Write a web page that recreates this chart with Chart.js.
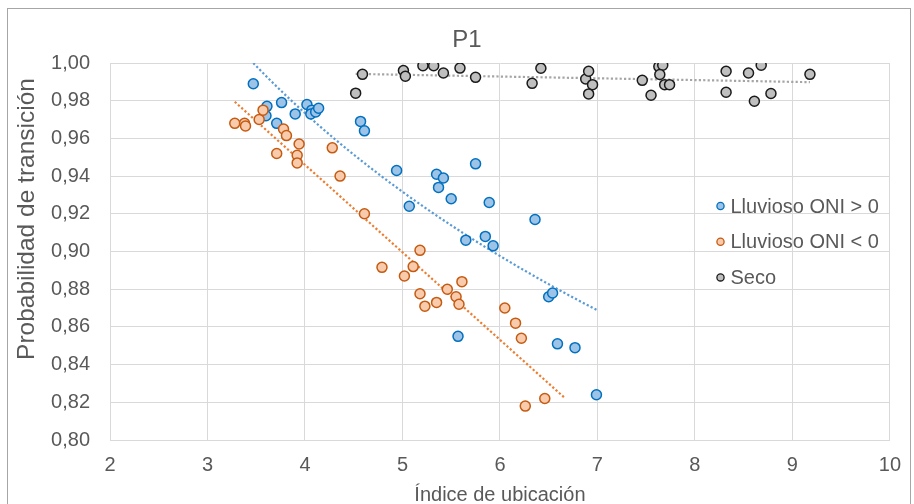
<!DOCTYPE html>
<html>
<head>
<meta charset="utf-8">
<script src="https://cdn.jsdelivr.net/npm/chart.js@4.4.0/dist/chart.umd.min.js"></script>
<style>
  body { margin: 0; background: #fff; }
  #wrap { width: 914px; height: 504px; }
</style>
</head>
<body>
<div id="wrap"><canvas id="p1Chart" width="914" height="504"></canvas></div>
<script>
// datos
const seriesNames = ['Lluvioso ONI > 0', 'Lluvioso ONI < 0', 'Seco'];

const lluviosoPosX = [3.47, 3.61, 3.60, 3.76, 3.71, 3.90, 4.02, 4.07, 4.06, 4.11, 4.14, 4.57, 4.61, 4.94, 5.07, 5.35,
  5.42, 5.37, 5.50, 5.75, 5.89, 6.36, 5.65, 5.85, 5.93, 6.50, 6.54, 5.57, 6.59, 6.77, 6.99];
const lluviosoPosY = [0.989, 0.977, 0.972, 0.979, 0.968, 0.973, 0.978, 0.975, 0.973, 0.974, 0.976, 0.969, 0.964, 0.943, 0.924, 0.941,
  0.939, 0.934, 0.928, 0.9465, 0.926, 0.917, 0.906, 0.908, 0.903, 0.876, 0.878, 0.855, 0.851, 0.849, 0.824];

const lluviosoNegX = [3.28, 3.38, 3.39, 3.53, 3.57, 3.71, 3.78, 3.81, 3.92, 3.92, 3.94, 4.28, 4.36, 4.61, 4.79, 5.02,
  5.11, 5.18, 5.18, 5.23, 5.35, 5.46, 5.55, 5.58, 5.61, 6.05, 6.16, 6.22, 6.26, 6.46];
const lluviosoNegY = [0.968, 0.968, 0.9666, 0.970, 0.975, 0.952, 0.965, 0.9615, 0.951, 0.947, 0.957, 0.955, 0.940, 0.920, 0.8916, 0.887,
  0.892, 0.9006, 0.8776, 0.871, 0.873, 0.880, 0.876, 0.872, 0.884, 0.870, 0.862, 0.854, 0.818, 0.822];

const secoX = [4.52, 4.59, 5.01, 5.03, 5.21, 5.32, 5.42, 5.59, 5.75, 6.33, 6.42, 6.88, 6.91, 6.95, 6.91, 7.46, 7.55,
  7.63, 7.67, 7.64, 7.69, 7.74, 8.32, 8.32, 8.55, 8.68, 8.61, 8.78, 9.18];
const secoY = [0.984, 0.994, 0.996, 0.993, 0.9986, 0.9986, 0.9947, 0.9973, 0.9924, 0.9892, 0.9972, 0.9915, 0.9956, 0.9885, 0.9836, 0.9908, 0.9829,
  0.9981, 0.9988, 0.9939, 0.9885, 0.9885, 0.9956, 0.9845, 0.9947, 0.9988, 0.9797, 0.9838, 0.994];

const xTicks = [2, 3, 4, 5, 6, 7, 8, 9, 10];
const yTicks = [0.80, 0.82, 0.84, 0.86, 0.88, 0.90, 0.92, 0.94, 0.96, 0.98, 1.00];
// tipo de linea de tendencia y pronostico hacia adelante (como en Excel)
const trendTypes = ['log', 'linear', 'linear'];
const trendForward = [0, 0.2, 0];

const textColor = '#595959';
const fontFam = "'Liberation Sans', Arial, sans-serif";

function toPoints(xs, ys) {
  return xs.map((x, i) => ({ x: x, y: ys[i] }));
}

// regresion por minimos cuadrados (lineal o logaritmica)
function fitTrend(xs, ys, type, forward) {
  const tx = xs.map(x => type === 'log' ? Math.log(x) : x);
  const n = xs.length;
  let sx = 0, sy = 0, sxx = 0, sxy = 0;
  for (let i = 0; i < n; i++) {
    sx += tx[i]; sy += ys[i]; sxx += tx[i] * tx[i]; sxy += tx[i] * ys[i];
  }
  const b = (n * sxy - sx * sy) / (n * sxx - sx * sx);
  const a = (sy - b * sx) / n;
  const x0 = Math.min(...xs), x1 = Math.max(...xs) + forward;
  const pts = [];
  const steps = 40;
  for (let k = 0; k <= steps; k++) {
    const x = x0 + (x1 - x0) * k / steps;
    pts.push({ x: x, y: a + b * (type === 'log' ? Math.log(x) : x) });
  }
  return pts;
}

const seriesX = [lluviosoPosX, lluviosoNegX, secoX];
const seriesY = [lluviosoPosY, lluviosoNegY, secoY];
const fills = ['#9dc3e6', '#f8cbad', '#bfbfbf'];
const borders = ['#0070c0', '#c55a11', '#1a1a1a'];
const trendColors = ['#5b9bd5', '#ed7d31', '#a5a5a5'];
const pointOrder = [2, 1, 0];

const datasets = [];
seriesNames.forEach((name, i) => {
  datasets.push({
    label: name,
    data: toPoints(seriesX[i], seriesY[i]),
    backgroundColor: fills[i],
    borderColor: borders[i],
    borderWidth: 1.5,
    pointRadius: 5,
    order: pointOrder[i]
  });
});
seriesNames.forEach((name, i) => {
  datasets.push({
    type: 'line',
    label: 'trend-' + name,
    data: fitTrend(seriesX[i], seriesY[i], trendTypes[i], trendForward[i]),
    borderColor: trendColors[i],
    borderWidth: 2.2,
    borderDash: [2.2, 2.2],
    pointRadius: 0,
    fill: false,
    tension: 0,
    order: 5 + i
  });
});

const decorations = {
  id: 'decorations',
  beforeDraw(chart) {
    const c = chart.ctx;
    c.save();
    c.fillStyle = '#fff';
    c.fillRect(0, 0, chart.width, chart.height);
    c.strokeStyle = '#a6a6a6';
    c.lineWidth = 1;
    c.strokeRect(7.5, 8.5, 903, 560);
    c.restore();
  },
  afterDraw(chart) {
    const c = chart.ctx;
    const area = chart.chartArea;
    c.save();
    c.fillStyle = textColor;
    // titulo
    c.font = '24px ' + fontFam;
    c.textAlign = 'center';
    c.textBaseline = 'alphabetic';
    c.fillText('P1', 467, 46.5);
    // titulo eje x
    c.font = '20px ' + fontFam;
    c.fillText('Índice de ubicación', (area.left + area.right) / 2, 500.5);
    // titulo eje y
    c.save();
    c.translate(33.5, 219);
    c.rotate(-Math.PI / 2);
    c.font = '24.5px ' + fontFam;
    c.fillText('Probabilidad de transición', 0, 0);
    c.restore();
    // leyenda
    c.font = '20px ' + fontFam;
    c.textAlign = 'left';
    c.textBaseline = 'middle';
    seriesNames.forEach((name, i) => {
      const y = 206 + i * 35.7;
      c.beginPath();
      c.arc(720.5, y, 3.6, 0, Math.PI * 2);
      c.fillStyle = fills[i];
      c.fill();
      c.lineWidth = 1.3;
      c.strokeStyle = borders[i];
      c.stroke();
      c.fillStyle = textColor;
      c.fillText(name, 730.5, y + 1);
    });
    c.restore();
  }
};

const ctx = document.getElementById('p1Chart').getContext('2d');
new Chart(ctx, {
  type: 'scatter',
  data: { datasets: datasets },
  options: {
    responsive: false,
    animation: false,
    layout: { padding: { top: 63, right: 23, left: 0, bottom: 0 } },
    plugins: {
      legend: { display: false },
      title: { display: false },
      tooltip: { enabled: false }
    },
    scales: {
      x: {
        type: 'linear',
        min: xTicks[0],
        max: xTicks[xTicks.length - 1],
        afterBuildTicks: s => { s.ticks = xTicks.map(v => ({ value: v })); },
        afterFit: s => { s.height = 64; },
        grid: { color: '#d9d9d9', drawTicks: false },
        border: { color: '#d9d9d9' },
        ticks: {
          padding: 13,
          color: textColor,
          font: { family: fontFam, size: 20 },
          callback: v => String(v)
        }
      },
      y: {
        type: 'linear',
        min: yTicks[0],
        max: yTicks[yTicks.length - 1],
        afterBuildTicks: s => { s.ticks = yTicks.map(v => ({ value: v })); },
        afterFit: s => { s.width = 110; },
        grid: { color: '#d9d9d9', drawTicks: false },
        border: { color: '#d9d9d9' },
        ticks: {
          padding: 20,
          color: textColor,
          font: { family: fontFam, size: 20 },
          callback: v => Number(v).toFixed(2).replace('.', ',')
        }
      }
    }
  },
  plugins: [decorations]
});
</script>
</body>
</html>
